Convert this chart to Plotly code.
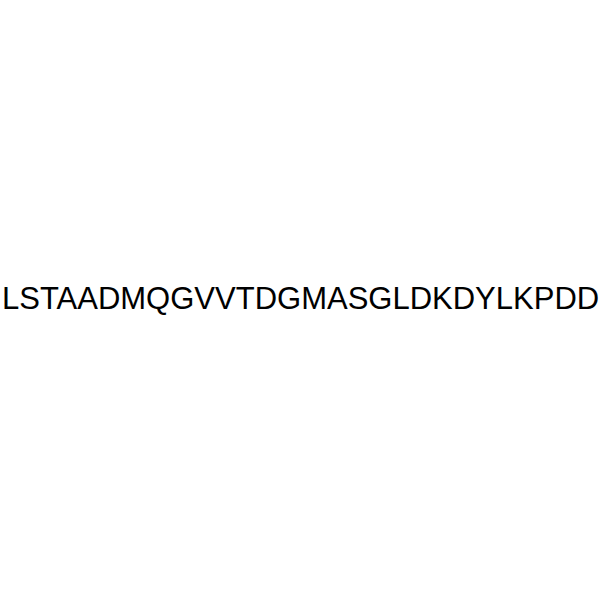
import plotly.graph_objects as go

label = "LSTAADMQGVVTDGMASGLDKDYLKPDD"

fig = go.Figure()
fig.add_annotation(
    text=label, x=0.5, y=0.5, xref="paper", yref="paper",
    xanchor="center", yanchor="middle", showarrow=False, yshift=2,
    font=dict(family="Liberation Sans, Arial, sans-serif", size=31, color="black"),
)
fig.update_layout(
    width=600, height=600, margin=dict(l=0, r=0, t=0, b=0),
    paper_bgcolor="white", plot_bgcolor="white",
    xaxis=dict(visible=False), yaxis=dict(visible=False),
)
fig.write_html("out.html", config={"displayModeBar": False},
               post_script="document.body.style.margin='0';")
